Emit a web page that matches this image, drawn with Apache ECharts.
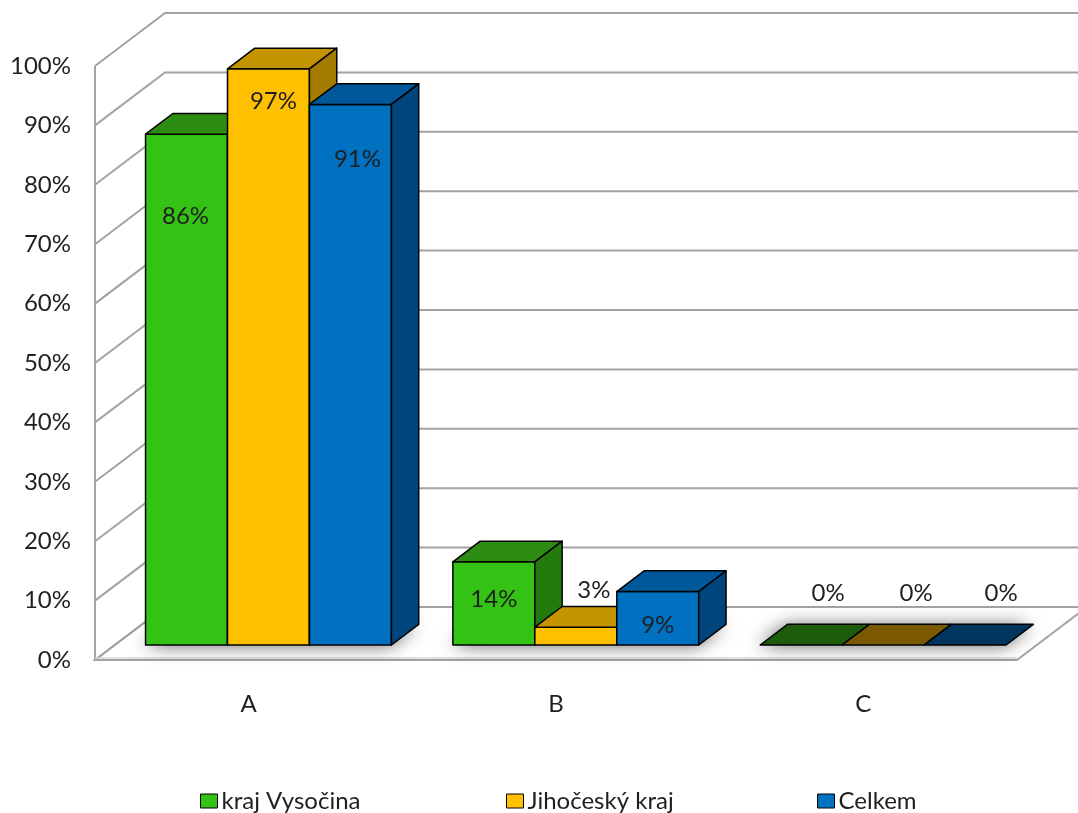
<!DOCTYPE html>
<html>
<head>
<meta charset="utf-8">
<script src="https://cdn.jsdelivr.net/npm/echarts@6/dist/echarts.min.js"></script>
<style>
  html, body { margin: 0; padding: 0; background: #ffffff; }
  #chart { width: 1078px; height: 813px; }
</style>
</head>
<body>
<div id="chart"></div>
<script>
// ---- data ----
const categories = ['A', 'B', 'C'];
const seriesNames = ['kraj Vysočina', 'Jihočeský kraj', 'Celkem'];
const vysocina = [86, 14, 0];
const jihocesky = [97, 3, 0];
const celkem = [91, 9, 0];
const yTicks = [0, 10, 20, 30, 40, 50, 60, 70, 80, 90, 100];

// ---- look ----
const FONT = 'Lato, "Open Sans", sans-serif';
const TEXT = '#1f1f1f';
const GRID_LINE = '#a3a3a3';
// oblique depth of the whole plot box (px) and where the bars sit inside it
const DEPTH = [70, -53];
const BAR_FRONT = 0.283;   // fraction of depth in front of the bars
const BAR_DEPTH = 0.39;    // fraction of depth taken by a bar
const GROUP_SHARE = 0.8;   // share of a category band filled by the bars
// face colours per series: front, top, side, top of an empty (0) bar
const FACES = [
  { front: '#34c214', top: '#2c8d12', side: '#247a0e', flat: '#1d5c0b' },
  { front: '#ffc000', top: '#c49300', side: '#a57b00', flat: '#7a5900' },
  { front: '#0070c0', top: '#00579a', side: '#00467c', flat: '#00365e' }
];
// label placement relative to the top-centre of a bar's front face
const LABEL_SHIFT = [
  [[-1, 82], [0, 37], [27, -52]],
  [[5, 32], [18, -37], [33, -52]],
  [[7, 55], [0, 34], [36, -52]]
];
const seriesValues = [vysocina, jihocesky, celkem];

function barGeom(cs, api, seriesIndex, cat, val) {
  const band = cs.width / categories.length;
  const barW = band * GROUP_SHARE / seriesNames.length;
  const groupStart = cs.x + cat * band + (band - barW * seriesNames.length) / 2;
  const shiftX = DEPTH[0] * BAR_FRONT, shiftY = DEPTH[1] * BAR_FRONT;
  const x0 = groupStart + seriesIndex * barW + shiftX;
  const base = api.coord([cat, 0])[1] + shiftY;
  const top = api.coord([cat, val])[1] + shiftY;
  return { x0: x0, x1: x0 + barW, base: base, top: top,
           dx: DEPTH[0] * BAR_DEPTH, dy: DEPTH[1] * BAR_DEPTH };
}

// back wall, side wall, floor and soft shadows below the bar groups
function renderWalls(params, api) {
  const cs = params.coordSys;
  const gx = cs.x, gr = cs.x + cs.width;
  const children = [];
  const y0 = api.coord([0, 0])[1];
  // floor
  children.push({
    type: 'polygon',
    shape: { points: [[gx, y0], [gr, y0], [gr + DEPTH[0], y0 + DEPTH[1]], [gx + DEPTH[0], y0 + DEPTH[1]]] },
    style: { fill: '#ffffff', stroke: GRID_LINE, lineWidth: 2 }
  });
  // grid lines on both walls
  yTicks.forEach(function (t) {
    const y = api.coord([0, t])[1];
    children.push({
      type: 'polyline',
      shape: { points: [[gx, y], [gx + DEPTH[0], y + DEPTH[1]], [gr + DEPTH[0], y + DEPTH[1]]] },
      style: { stroke: GRID_LINE, lineWidth: 2, fill: null }
    });
  });
  // front edge of the side wall
  children.push({
    type: 'line',
    shape: { x1: gx, y1: api.coord([0, yTicks[yTicks.length - 1]])[1], x2: gx, y2: y0 },
    style: { stroke: GRID_LINE, lineWidth: 2 }
  });
  // front edge of the floor slab
  children.push({
    type: 'line',
    shape: { x1: gx, y1: y0 - 2, x2: gr, y2: y0 - 2 },
    style: { stroke: '#d4d4d4', lineWidth: 1.5 }
  });
  // shadows of each bar group on the floor
  categories.forEach(function (c, ci) {
    const first = barGeom(cs, api, 0, ci, 0);
    const last = barGeom(cs, api, seriesNames.length - 1, ci, 0);
    children.push({
      type: 'polygon',
      shape: { points: [[first.x0, first.base], [last.x1, last.base],
                        [last.x1 + last.dx, last.base + last.dy], [first.x0 + first.dx, first.base + first.dy]] },
      style: { fill: '#ffffff', shadowBlur: 18, shadowColor: 'rgba(0,0,0,0.6)', shadowOffsetX: -2, shadowOffsetY: 1 }
    });
  });
  return { type: 'group', children: children };
}

function makeBarRenderer(si) {
  return function (params, api) {
    const cat = api.value(0);
    const val = api.value(1);
    const g = barGeom(params.coordSys, api, si, cat, val);
    const f = FACES[si];
    const edge = { stroke: '#000000', lineWidth: 1.5, lineJoin: 'round' };
    const children = [];
    const topFace = [[g.x0, g.top], [g.x1, g.top], [g.x1 + g.dx, g.top + g.dy], [g.x0 + g.dx, g.top + g.dy]];
    if (val > 0) {
      children.push({ type: 'polygon',
        shape: { points: [[g.x0, g.top], [g.x1, g.top], [g.x1, g.base], [g.x0, g.base]] },
        style: Object.assign({ fill: f.front }, edge) });
      children.push({ type: 'polygon', shape: { points: topFace },
        style: Object.assign({ fill: f.top }, edge) });
      children.push({ type: 'polygon',
        shape: { points: [[g.x1, g.top], [g.x1 + g.dx, g.top + g.dy], [g.x1 + g.dx, g.base + g.dy], [g.x1, g.base]] },
        style: Object.assign({ fill: f.side }, edge) });
    } else {
      children.push({ type: 'polygon', shape: { points: topFace },
        style: Object.assign({ fill: f.flat }, edge) });
    }
    const sh = LABEL_SHIFT[si][cat];
    children.push({
      type: 'text',
      style: {
        text: val + '%',
        x: (g.x0 + g.x1) / 2 + sh[0],
        y: g.top + sh[1],
        align: 'center', verticalAlign: 'middle',
        font: '24px ' + FONT, fill: TEXT
      },
      z2: 10
    });
    return { type: 'group', children: children };
  };
}

const chart = echarts.init(document.getElementById('chart'), null, { renderer: 'canvas' });

const series = [{
  type: 'custom',
  name: 'walls',
  coordinateSystem: 'cartesian2d',
  renderItem: renderWalls,
  data: [[0, 0]],
  silent: true,
  z: 1
}];
seriesNames.forEach(function (name, si) {
  series.push({
    type: 'custom',
    name: name,
    coordinateSystem: 'cartesian2d',
    renderItem: makeBarRenderer(si),
    data: seriesValues[si].map(function (v, ci) { return [ci, v]; }),
    itemStyle: { color: FACES[si].front },
    z: 2 + si
  });
});

const legendLeft = [200, 506, 817];
const legends = seriesNames.map(function (name, si) {
  return {
    data: [name],
    left: legendLeft[si],
    top: 789,
    icon: 'rect',
    itemWidth: 17,
    itemHeight: 14,
    itemGap: 0,
    padding: 0,
    selectedMode: false,
    itemStyle: { borderColor: '#000000', borderWidth: 1 },
    textStyle: { fontFamily: FONT, fontSize: 24, color: TEXT, padding: [0, 0, 0, -1] }
  };
});

chart.setOption({
  animation: false,
  backgroundColor: '#ffffff',
  grid: { left: 95, top: 66, width: 922, height: 594 },
  xAxis: {
    type: 'category',
    data: categories,
    axisLine: { show: false },
    axisTick: { show: false },
    splitLine: { show: false },
    axisLabel: { margin: 32, fontFamily: FONT, fontSize: 24, color: TEXT }
  },
  yAxis: {
    type: 'value',
    min: 0,
    max: 100,
    interval: 10,
    axisLine: { show: false },
    axisTick: { show: false },
    splitLine: { show: false },
    axisLabel: { margin: 24, formatter: '{value}%', fontFamily: FONT, fontSize: 24, color: TEXT }
  },
  legend: legends,
  series: series
});
</script>
</body>
</html>
